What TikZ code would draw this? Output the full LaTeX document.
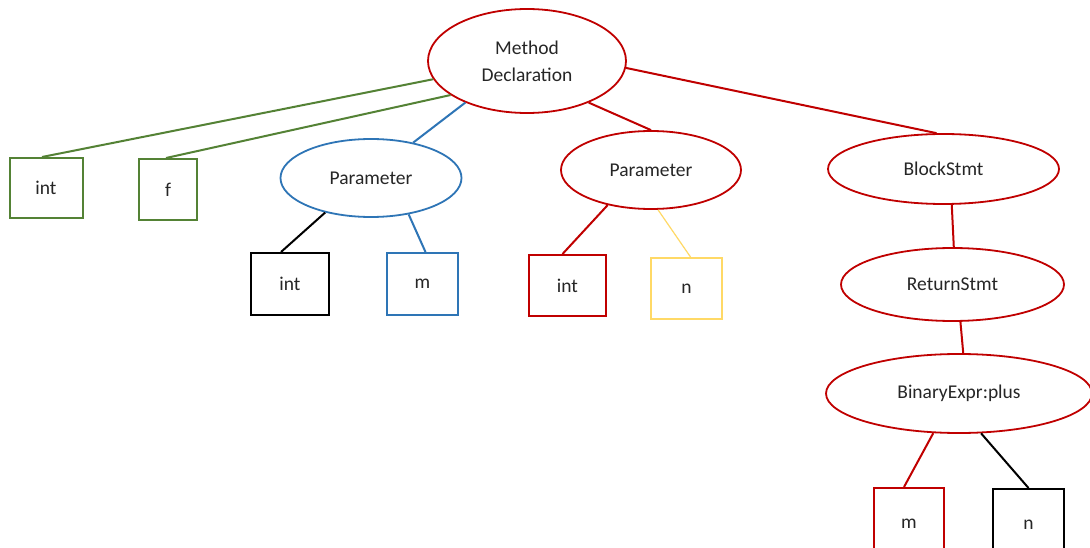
\documentclass[tikz,border=0pt]{standalone}
\usepackage{fontspec}
\setmainfont{Carlito}
\usetikzlibrary{shapes.geometric}
\definecolor{cgreen}{HTML}{548235}
\definecolor{cblue}{HTML}{2E75B6}
\definecolor{cred}{HTML}{C00000}
\definecolor{cyellow}{HTML}{FFD966}
\definecolor{ctext}{HTML}{262626}
\tikzset{
  ell/.style={ellipse, draw, line width=1.8pt, inner sep=0pt, text=ctext,
    font=\fontsize{19.5}{27}\selectfont},
  leaf/.style={rectangle, draw, line width=2pt, inner sep=0pt, text=ctext,
    font=\fontsize{19.5}{24}\selectfont},
  edge/.style={line width=2pt},
}
\begin{document}
\begin{tikzpicture}[x=1pt, y=-1pt]
\clip (0,0) rectangle (1090,548);
\fill[white] (0,0) rectangle (1090,548);

% inner nodes
\node[ell, draw=cred, minimum width=198pt, minimum height=104pt, align=center] (md) at (527,61) {Method\\Declaration};
\node[ell, draw=cblue, minimum width=181pt, minimum height=78pt] (parA) at (371,178) {Parameter};
\node[ell, draw=cred, minimum width=180pt, minimum height=78pt] (parB) at (651,170) {Parameter};
\node[ell, draw=cred, minimum width=231pt, minimum height=70pt] (blk) at (943.5,169) {BlockStmt};
\node[ell, draw=cred, minimum width=223pt, minimum height=73pt] (ret) at (952.5,284.5) {ReturnStmt};
\node[ell, draw=cred, minimum width=266pt, minimum height=79pt] (bin) at (959,393.5) {BinaryExpr:plus};

% leaves
\node[leaf, draw=cgreen, minimum width=73pt, minimum height=60pt] (intA) at (46,188) {int};
\node[leaf, draw=cgreen, minimum width=58pt, minimum height=61pt] (fA) at (168,189.5) {f};
\node[leaf, draw=black, minimum width=78pt, minimum height=62pt] (intB) at (290,284) {int};
\node[leaf, draw=cblue, minimum width=71pt, minimum height=62pt] (mB) at (422.5,284) {m};
\node[leaf, draw=cred, minimum width=77pt, minimum height=61pt] (intC) at (567.5,285.5) {int};
\node[leaf, draw=cyellow, minimum width=71pt, minimum height=61pt] (nC) at (686.5,288.5) {n};
\node[leaf, draw=cred, minimum width=70pt, minimum height=72pt] (mD) at (909,524) {m};
\node[leaf, draw=black, minimum width=71pt, minimum height=72pt] (nD) at (1028.5,525) {n};

% connectors
\draw[edge, cgreen] (md.191) -- ([xshift=-4pt]intA.north);
\draw[edge, cgreen] (md.204) -- ([xshift=-2pt]fA.north);
\draw[edge, cblue] (md.214) -- (parA.40);
\draw[edge, cred] (md.326) -- (parB.north);
\draw[edge, cred] (md.356) -- (blk.101);
\draw[edge, black] (parA.217) -- ([xshift=-9pt]intB.north);
\draw[edge, cblue] (parA.316) -- ([xshift=3pt]mB.north);
\draw[edge, cred] (parB.219) -- ([xshift=-5pt]intC.north);
\draw[line width=1.2pt, cyellow] (parB.280) -- ([xshift=4pt]nC.north);
\draw[edge, cred] (blk.283) -- (ret.88);
\draw[edge, cred] (ret.282) -- (bin.84);
\draw[edge, cred] (bin.237) -- ([xshift=-5pt]mD.north);
\draw[edge, black] (bin.299) -- (nD.north);
\end{tikzpicture}
\end{document}
